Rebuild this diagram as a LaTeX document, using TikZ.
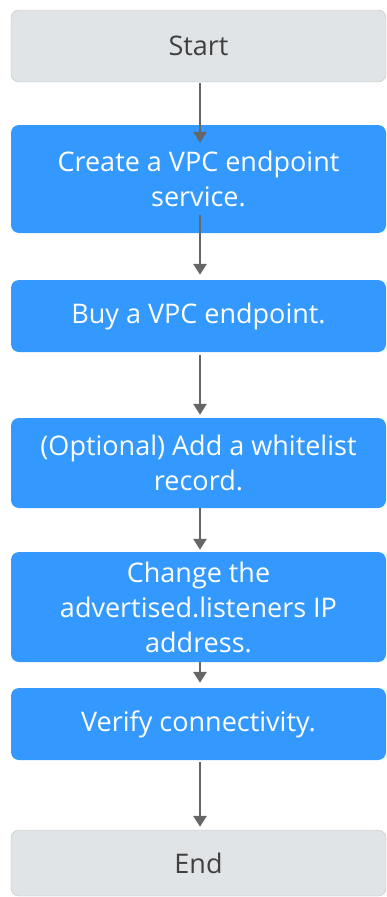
\documentclass[tikz,border=0pt]{standalone}
\usepackage{fontspec}
\setmainfont{Open Sans}
\usetikzlibrary{arrows.meta,calc}
\definecolor{stepblue}{RGB}{51,153,255}
\definecolor{termgray}{RGB}{225,228,230}
\definecolor{termtext}{RGB}{64,64,64}
\definecolor{arrowgray}{RGB}{102,102,102}
\tikzset{
  box/.style={rounded corners=8pt, minimum width=375pt, inner sep=0pt, align=center, font=\fontsize{27}{35}\selectfont},
  stepbox/.style={box, fill=stepblue, text=white},
  termbox/.style={box, fill=termgray, text=termtext, draw=termgray!85!black, line width=0.4pt},
  flow/.style={draw=arrowgray, line width=2.6pt, -{Triangle[width=13pt,length=11pt]}}
}
\begin{document}
\begin{tikzpicture}[x=1pt,y=-1pt]
\useasboundingbox (0,0) rectangle (387,897);
\node[termbox, minimum height=72pt] (start) at (198.5,46) {Start};
\node[stepbox, minimum height=108pt] (create) at (198.5,179) {Create a VPC endpoint\\service.};
\node[stepbox, minimum height=72pt] (buy) at (198.5,316) {Buy a VPC endpoint.};
\node[stepbox, minimum height=90pt] (white) at (198.5,463) {(Optional) Add a whitelist\\record.};
\node[stepbox, minimum height=110pt] (change) at (198.5,607) {Change the\\advertised.listeners IP\\address.};
\node[stepbox, minimum height=72pt] (verify) at (198.5,724) {Verify connectivity.};
\node[termbox, minimum height=66pt] (end) at (198.5,863) {End};
\draw[flow] ($(start.south)+(1.5,1)$) -- ($(create.north)+(1.5,18)$);
\draw[flow] ($(create.south)+(1.5,-18)$) -- ($(buy.north)+(1.5,-5)$);
\draw[flow] ($(buy.south)+(1.5,3)$) -- ($(white.north)+(1.5,-3)$);
\draw[flow] ($(white.south)+(1.5,0)$) -- ($(change.north)+(1.5,-2)$);
\draw[flow] ($(change.south)+(1.5,0)$) -- ($(verify.north)+(1.5,-5)$);
\draw[flow] ($(verify.south)+(1.5,2)$) -- ($(end.north)+(1.5,-3)$);
\end{tikzpicture}
\end{document}
